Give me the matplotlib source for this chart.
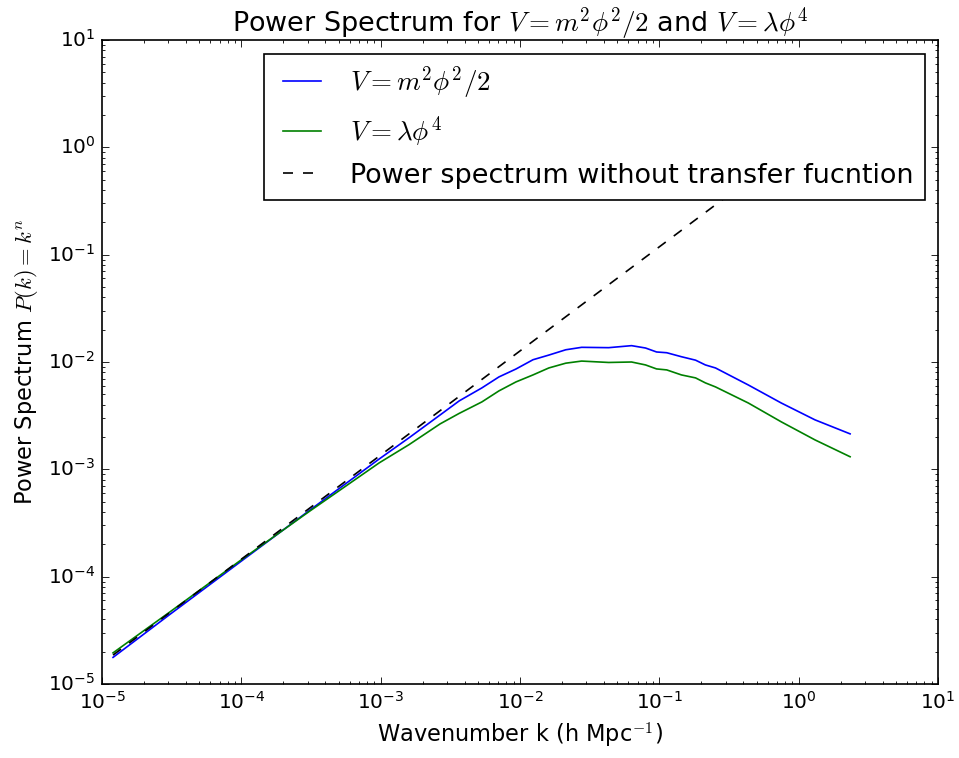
import matplotlib
matplotlib.use("Agg")
import matplotlib.pyplot as plt

plt.style.use("classic")

# wavenumbers (h/Mpc)
k = [1.20e-5, 3.07e-5, 9.73e-5, 3.08e-4, 9.77e-4, 1.60e-3, 2.67e-3, 3.66e-3,
     5.33e-3, 7.06e-3, 9.35e-3, 1.24e-2, 1.61e-2, 2.13e-2, 2.77e-2, 4.33e-2,
     6.32e-2, 7.96e-2, 9.55e-2, 0.113, 0.144, 0.182, 0.214, 0.253, 0.435,
     0.750, 1.31, 2.34]

# V = m^2 phi^2 / 2
p_quad = [1.77e-5, 4.45e-5, 1.36e-4, 4.14e-4, 1.25e-3, 1.97e-3, 3.21e-3, 4.34e-3,
          5.74e-3, 7.26e-3, 8.60e-3, 1.05e-2, 1.16e-2, 1.30e-2, 1.37e-2, 1.36e-2,
          1.42e-2, 1.35e-2, 1.24e-2, 1.22e-2, 1.12e-2, 1.04e-2, 9.39e-3, 8.80e-3,
          6.11e-3, 4.15e-3, 2.89e-3, 2.14e-3]

# V = lambda phi^4
p_quart = [1.95e-5, 4.69e-5, 1.40e-4, 4.06e-4, 1.15e-3, 1.70e-3, 2.65e-3, 3.32e-3,
           4.25e-3, 5.38e-3, 6.52e-3, 7.58e-3, 8.80e-3, 9.75e-3, 1.02e-2, 9.90e-3,
           1.00e-2, 9.39e-3, 8.62e-3, 8.44e-3, 7.58e-3, 7.11e-3, 6.39e-3, 5.86e-3,
           4.15e-3, 2.77e-3, 1.88e-3, 1.31e-3]

# primordial spectrum, straight line in log-log
k_prim = [1.20e-5, 2.34]
p_prim = [1.86e-5, 2.52]

fig = plt.figure(figsize=(959 / 120, 758 / 120), dpi=120)
ax = fig.add_axes([102 / 959, 1 - 684 / 758, (938 - 102) / 959, (684 - 40) / 758])

ax.loglog(k, p_quad, 'b', label=r'$V = m^2\phi^2/2$')
ax.loglog(k, p_quart, 'g', label=r'$V = \lambda\phi^4$')
ax.loglog(k_prim, p_prim, 'k--', label='Power spectrum without transfer fucntion')

ax.set_xlim(1e-5, 1e1)
ax.set_ylim(1e-5, 1e1)

ax.set_title(r'Power Spectrum for $V = m^2\phi^2/2$ and $V = \lambda\phi^4$',
             fontsize=16.2)
ax.set_xlabel(r'Wavenumber k (h Mpc$^{-1}$)', fontsize=13.5)
ax.set_ylabel(r'Power Spectrum $P(k) = k^n$', fontsize=13.5)

ax.legend(loc='upper right', framealpha=1, fontsize=16.2)

fig.savefig('out.png', dpi=120)
